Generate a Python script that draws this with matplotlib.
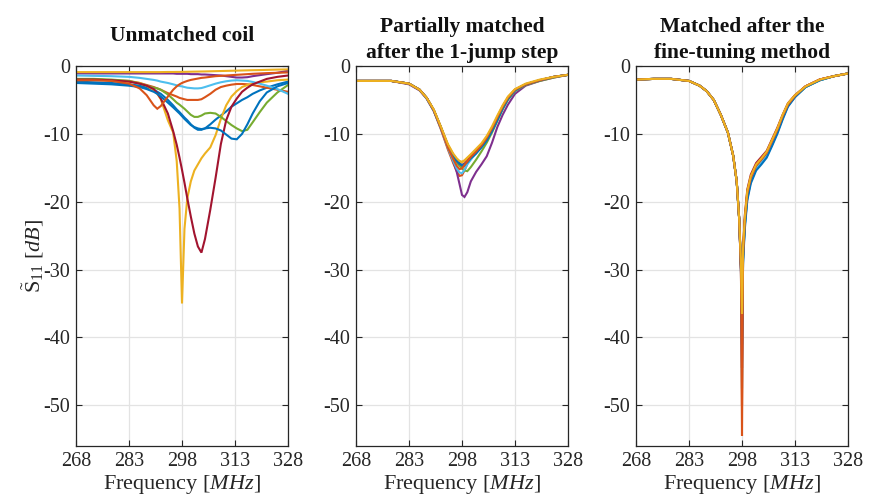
import matplotlib
matplotlib.use("Agg")
import matplotlib.pyplot as plt

plt.rcParams['font.family'] = ['Liberation Serif', 'DejaVu Serif']
plt.rcParams['mathtext.fontset'] = 'custom'
plt.rcParams['mathtext.rm'] = 'Liberation Serif'
plt.rcParams['mathtext.it'] = 'Liberation Serif:italic'
plt.rcParams['axes.unicode_minus'] = False

colors = ['#0072BD', '#D95319', '#EDB120', '#7E2F8E', '#77AC30', '#4DBEEE', '#A2142F']

titles = ['Unmatched coil', 'Partially matched\nafter the 1-jump step',
          'Matched after the\nfine-tuning method']
xticks = [268, 283, 298, 313, 328]
yticks = [0, -10, -20, -30, -40, -50]

# ---------------- Panel 1: unmatched coil ----------------
f1 = [268, 273, 278, 283, 286, 288, 290, 291, 292, 294, 295.5, 296.5, 297.3, 298, 298.7,
      299.5, 300.5, 301.5, 302.5, 303.5, 304.5, 306, 307.5, 309, 310.5, 312, 313.5, 315,
      316.5, 318, 320, 322, 325, 328]
u_blue_a = [-2.3, -2.4, -2.5, -2.7, -2.9, -3.2, -3.5, -3.8, -4.1, -5.0, -5.8, -6.4, -6.8, -7.2, -7.6,
            -8.0, -8.6, -9.1, -9.4, -9.4, -9.2, -8.6, -7.9, -7.3, -6.7, -6.0, -5.5, -5.0,
            -4.6, -4.1, -3.6, -3.2, -2.7, -2.3]
u_orange_a = [-2.0, -2.0, -2.1, -2.2, -2.5, -2.8, -3.1, -3.3, -3.5, -4.0, -4.3, -4.5, -4.7, -4.8, -4.9,
              -5.0, -5.0, -5.0, -5.0, -4.9, -4.6, -4.1, -3.5, -3.1, -2.9, -2.75, -2.65, -2.65,
              -2.7, -2.8, -3.0, -3.2, -3.5, -3.8]
u_yellow_a = [-2.0, -2.0, -2.1, -2.3, -2.5, -2.9, -3.6, -4.1, -4.9, -8.0, -9.8, -14.0, -21.0, -35.0, -24.0,
              -19.5, -17.0, -15.4, -14.5, -13.6, -12.9, -12.0, -10.2, -7.8, -5.8, -4.5, -3.7, -3.1,
              -2.8, -2.6, -2.4, -2.3, -2.1, -2.0]
u_purple = [-1.1, -1.1, -1.1, -1.1, -1.1, -1.1, -1.1, -1.1, -1.1, -1.1, -1.1, -1.15, -1.15, -1.15, -1.15,
            -1.15, -1.2, -1.2, -1.2, -1.25, -1.25, -1.3, -1.35, -1.4, -1.5, -1.6, -1.7, -1.7,
            -1.65, -1.5, -1.35, -1.2, -1.0, -0.7]
u_green = [-1.9, -1.9, -2.0, -2.2, -2.6, -2.9, -3.2, -3.3, -3.5, -4.2, -4.9, -5.4, -5.7, -6.0, -6.3,
           -6.7, -7.2, -7.5, -7.5, -7.3, -7.0, -6.9, -7.0, -7.5, -8.1, -8.7, -9.2, -9.6,
           -9.4, -8.3, -6.8, -5.4, -3.9, -2.8]
u_lightblue = [-1.4, -1.45, -1.5, -1.6, -1.75, -1.9, -2.05, -2.15, -2.3, -2.5, -2.7, -2.85, -2.95, -3.0, -3.1,
               -3.2, -3.25, -3.3, -3.3, -3.25, -3.1, -2.85, -2.6, -2.4, -2.25, -2.15, -2.1, -2.15,
               -2.2, -2.35, -2.6, -2.9, -3.4, -4.1]
u_darkred = [-2.0, -2.0, -2.1, -2.3, -2.6, -2.9, -3.4, -4.0, -4.8, -7.0, -9.6, -11.6, -13.5, -15.3, -17.2,
             -19.5, -22.2, -24.7, -26.6, -27.5, -25.5, -21.2, -16.5, -11.5, -8.0, -6.0, -4.8, -3.8,
             -3.2, -2.7, -2.3, -1.9, -1.6, -1.4]
u_blue_b = [-2.5, -2.6, -2.7, -2.9, -3.1, -3.4, -3.8, -4.1, -4.5, -5.4, -6.1, -6.6, -7.0, -7.4, -7.8,
            -8.2, -8.7, -9.0, -9.2, -9.3, -9.2, -9.1, -9.2, -9.5, -10.1, -10.7, -10.8, -10.0,
            -8.6, -7.0, -5.2, -3.9, -3.0, -2.5]
u_orange_b = [-2.1, -2.1, -2.2, -2.6, -3.3, -4.3, -5.8, -6.3, -5.9, -4.5, -3.5, -3.0, -2.7, -2.5, -2.35,
              -2.2, -2.05, -1.95, -1.85, -1.75, -1.7, -1.6, -1.5, -1.45, -1.4, -1.35, -1.3, -1.25,
              -1.2, -1.15, -1.1, -1.05, -1.0, -0.95]
u_yellow_b = [-0.9, -0.9, -0.9, -0.9, -0.9, -0.9, -0.9, -0.9, -0.9, -0.88, -0.88, -0.87, -0.87, -0.86, -0.86,
              -0.85, -0.84, -0.83, -0.82, -0.81, -0.8, -0.78, -0.76, -0.74, -0.72, -0.7, -0.68, -0.66,
              -0.64, -0.62, -0.6, -0.57, -0.53, -0.5]
unmatched = [u_blue_a, u_orange_a, u_yellow_a, u_purple, u_green, u_lightblue, u_darkred,
             u_blue_b, u_orange_b, u_yellow_b]

# ---------------- Panel 2: partially matched ----------------
f2 = [268, 273, 278, 283, 286, 288, 290, 292, 294, 295.5, 296.5, 297.3, 298, 298.7, 299.5,
      300.5, 302, 303.5, 305, 306.5, 308, 309.5, 311, 313, 316, 320, 324, 328]
p_blue_a = [-2.2, -2.2, -2.2, -2.6, -3.5, -4.7, -6.5, -9.1, -11.8, -13.3, -14.1, -14.6, -14.8, -14.7, -14.3,
            -13.7, -12.8, -11.9, -10.8, -9.4, -7.8, -6.2, -4.8, -3.6, -2.7, -2.1, -1.6, -1.3]
p_orange_a = [-2.2, -2.2, -2.2, -2.6, -3.5, -4.8, -6.6, -9.3, -12.3, -14.3, -15.5, -16.2, -16.1, -15.4, -14.4,
              -13.6, -12.6, -11.7, -10.6, -9.2, -7.6, -6.0, -4.7, -3.5, -2.7, -2.1, -1.6, -1.3]
p_yellow_a = [-2.2, -2.2, -2.2, -2.6, -3.5, -4.7, -6.5, -9.0, -11.6, -13.0, -13.7, -14.1, -14.2, -14.0, -13.6,
              -13.1, -12.4, -11.6, -10.5, -9.1, -7.5, -5.9, -4.6, -3.5, -2.7, -2.1, -1.6, -1.3]
p_purple = [-2.2, -2.2, -2.2, -2.7, -3.6, -4.8, -6.6, -9.1, -12.0, -14.0, -15.6, -17.4, -19.0, -19.3, -18.6,
            -17.0, -15.6, -14.5, -13.3, -11.3, -9.0, -7.2, -5.7, -4.1, -2.9, -2.2, -1.7, -1.3]
p_green = [-2.2, -2.2, -2.2, -2.6, -3.5, -4.7, -6.5, -9.0, -11.8, -13.4, -14.2, -14.7, -15.1, -15.4, -15.5,
           -14.9, -13.8, -12.6, -11.3, -9.8, -8.1, -6.4, -5.0, -3.7, -2.8, -2.2, -1.7, -1.3]
p_lightblue = [-2.2, -2.2, -2.2, -2.6, -3.5, -4.8, -6.6, -9.2, -12.1, -14.0, -15.1, -15.7, -15.8, -15.3, -14.5,
               -13.8, -12.8, -11.9, -10.8, -9.4, -7.8, -6.2, -4.8, -3.6, -2.7, -2.1, -1.6, -1.3]
p_darkred = [-2.2, -2.2, -2.2, -2.6, -3.5, -4.7, -6.5, -9.0, -11.7, -13.1, -13.9, -14.4, -14.6, -14.4, -14.0,
             -13.4, -12.6, -11.7, -10.6, -9.2, -7.6, -6.0, -4.7, -3.5, -2.7, -2.1, -1.6, -1.3]
p_blue_b = [-2.2, -2.2, -2.2, -2.6, -3.5, -4.7, -6.5, -9.0, -11.7, -13.2, -14.0, -14.4, -14.6, -14.5, -14.2,
            -13.6, -12.9, -12.0, -11.0, -9.6, -8.0, -6.3, -4.9, -3.6, -2.7, -2.1, -1.6, -1.3]
p_orange_b = [-2.2, -2.2, -2.2, -2.6, -3.5, -4.7, -6.5, -9.1, -12.0, -13.7, -14.7, -15.2, -15.1, -14.6, -14.1,
              -13.4, -12.6, -11.7, -10.6, -9.2, -7.6, -6.0, -4.7, -3.5, -2.7, -2.1, -1.6, -1.3]
p_yellow_b = [-2.2, -2.2, -2.2, -2.6, -3.5, -4.7, -6.4, -8.9, -11.5, -12.9, -13.6, -14.0, -14.1, -13.9, -13.5,
              -13.0, -12.2, -11.4, -10.3, -8.9, -7.3, -5.8, -4.5, -3.4, -2.6, -2.0, -1.6, -1.3]
partial = [p_blue_a, p_orange_a, p_yellow_a, p_purple, p_green, p_lightblue, p_darkred,
           p_blue_b, p_orange_b, p_yellow_b]

# ---------------- Panel 3: matched after fine-tuning ----------------
f3 = [268, 273, 278, 283, 286, 288, 290, 292, 294, 295.5, 296.5, 297.2, 297.7, 298, 298.3,
      298.8, 299.5, 300.5, 302, 303.5, 305, 306.5, 308, 309.5, 311, 313, 316, 320, 324, 328]
m_blue_a = [-2.0, -1.9, -1.9, -2.2, -2.9, -3.7, -5.0, -7.2, -9.8, -13.2, -17.0, -22.5, -29.5, -40.0, -28.5,
            -23.5, -19.5, -17.0, -15.2, -14.3, -13.3, -11.6, -9.8, -7.7, -5.9, -4.5, -3.1, -2.1, -1.5, -1.1]
m_orange_a = [-2.0, -1.9, -1.9, -2.2, -2.9, -3.7, -5.0, -7.2, -9.8, -13.2, -17.0, -22.5, -30.0, -54.5, -28.0,
              -22.8, -18.8, -16.5, -14.7, -13.8, -12.8, -11.1, -9.4, -7.4, -5.7, -4.4, -3.0, -2.0, -1.5, -1.1]
m_yellow_a = [-2.0, -1.9, -1.9, -2.2, -2.9, -3.7, -5.0, -7.2, -9.8, -13.2, -17.0, -22.5, -29.0, -36.0, -27.0,
              -22.5, -18.5, -16.3, -14.6, -13.7, -12.7, -11.0, -9.3, -7.3, -5.6, -4.3, -3.0, -2.0, -1.5, -1.1]
m_purple = [-2.0, -1.9, -1.9, -2.2, -2.9, -3.7, -5.0, -7.2, -9.8, -13.2, -17.0, -22.5, -29.5, -38.0, -27.5,
            -22.8, -18.8, -16.5, -14.7, -13.8, -12.8, -11.1, -9.4, -7.4, -5.7, -4.4, -3.0, -2.0, -1.5, -1.1]
m_green = [-2.0, -1.9, -1.9, -2.2, -2.9, -3.7, -5.0, -7.2, -9.8, -13.2, -17.0, -22.5, -29.5, -39.0, -28.0,
           -23.2, -19.2, -16.8, -15.0, -14.1, -13.1, -11.4, -9.6, -7.6, -5.8, -4.5, -3.1, -2.1, -1.5, -1.1]
m_lightblue = [-2.0, -1.9, -1.9, -2.2, -2.9, -3.7, -5.0, -7.2, -9.8, -13.2, -17.0, -22.5, -30.0, -47.5, -28.5,
               -23.3, -19.3, -16.9, -15.1, -14.2, -13.2, -11.5, -9.7, -7.6, -5.8, -4.5, -3.1, -2.1, -1.5, -1.1]
m_darkred = [-2.0, -1.9, -1.9, -2.2, -2.9, -3.7, -5.0, -7.2, -9.8, -13.2, -17.0, -22.5, -30.0, -44.5, -27.0,
             -22.0, -18.2, -16.0, -14.3, -13.4, -12.5, -10.8, -9.1, -7.2, -5.5, -4.3, -3.0, -2.0, -1.5, -1.1]
m_blue_b = [-2.0, -1.9, -1.9, -2.2, -2.9, -3.7, -5.0, -7.2, -9.8, -13.2, -17.0, -22.5, -29.5, -41.0, -29.0,
            -24.0, -19.8, -17.3, -15.4, -14.5, -13.5, -11.8, -10.0, -7.9, -6.0, -4.6, -3.1, -2.1, -1.5, -1.1]
m_orange_b = [-2.0, -1.9, -1.9, -2.2, -2.9, -3.7, -5.0, -7.2, -9.8, -13.2, -17.0, -22.5, -30.0, -50.0, -28.0,
              -22.8, -18.8, -16.5, -14.7, -13.8, -12.8, -11.1, -9.4, -7.4, -5.7, -4.4, -3.0, -2.0, -1.5, -1.1]
m_yellow_b = [-2.0, -1.9, -1.9, -2.2, -2.9, -3.7, -5.0, -7.2, -9.8, -13.2, -17.0, -22.5, -29.0, -36.5, -26.8,
              -22.3, -18.4, -16.2, -14.5, -13.6, -12.6, -10.9, -9.2, -7.2, -5.5, -4.3, -3.0, -2.0, -1.5, -1.1]
matched = [m_blue_a, m_orange_a, m_yellow_a, m_purple, m_green, m_lightblue, m_darkred,
           m_blue_b, m_orange_b, m_yellow_b]

fig = plt.figure(figsize=(8.7, 4.95), dpi=100)
lefts = [76 / 870, 356 / 870, 636 / 870]
width = 212 / 870
bottom = 49 / 495
height = 380 / 495

panels = [(f1, unmatched), (f2, partial), (f3, matched)]
title_pads = [18, 6, 6]
for i, (freq, series) in enumerate(panels):
    ax = fig.add_axes([lefts[i], bottom, width, height])
    for k, s in enumerate(series):
        ax.plot(freq, s, color=colors[k % len(colors)], lw=1.5, solid_joinstyle='miter')
    ax.set_xlim(268, 328)
    ax.set_ylim(-56, 0)
    ax.set_xticks(xticks)
    ax.set_yticks(yticks)
    ax.set_xticklabels([str(t) for t in xticks])
    ax.set_yticklabels([str(t) for t in yticks])
    ax.grid(True, color='#e3e3e3', lw=0.9)
    ax.set_axisbelow(True)
    ax.tick_params(direction='in', length=4, width=0.8, top=True, right=True,
                   labelsize=14.5, colors='#262626', pad=4)
    for sp in ax.spines.values():
        sp.set_color('#262626')
        sp.set_linewidth(0.9)
    ax.set_title(titles[i], fontsize=15.5, fontweight='bold', color='#111111',
                 pad=title_pads[i], linespacing=1.35)
    ax.set_xlabel('Frequency $[MHz]$', fontsize=16, color='#262626', labelpad=2)
    if i == 0:
        ax.set_ylabel(r'$\tilde{\mathrm{S}}_{11}$ $[dB]$', fontsize=16, color='#262626', labelpad=-2)

fig.savefig('out.png', dpi=100)
